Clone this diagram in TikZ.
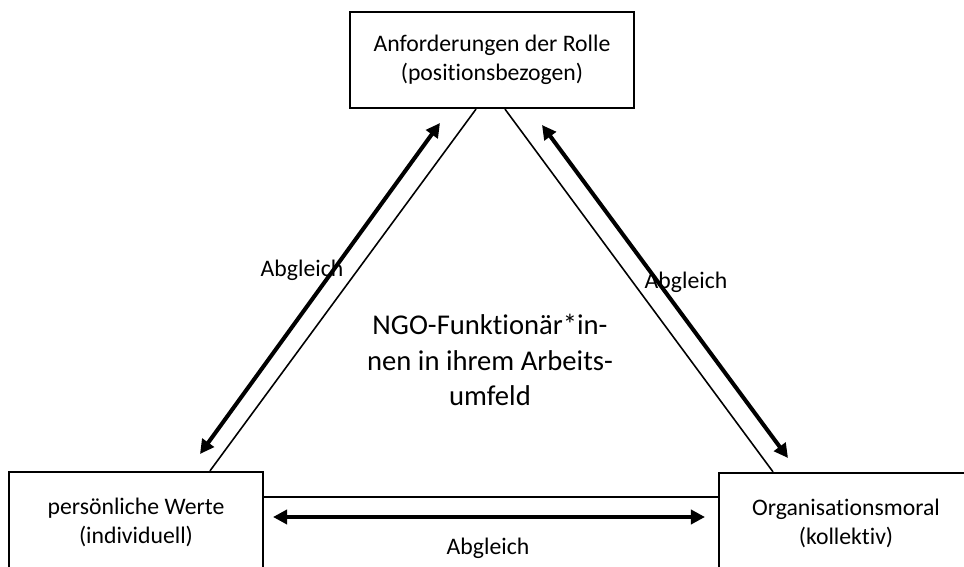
\documentclass[tikz,border=0pt]{standalone}
\usepackage{fontspec}
\setmainfont[Ligatures=NoCommon]{Carlito}
\usetikzlibrary{arrows.meta}

\tikzset{
    rolebox/.style={draw, line width=1.3pt, minimum width=5.08cm, minimum height=2cm, align=center, font=\fontsize{13.5}{16.5}\selectfont},
    link/.style={line width=0.9pt},
    match/.style={line width=2.3pt, {Triangle[length=8pt,width=8pt]}-{Triangle[length=8pt,width=8pt]}},
    matchlabel/.style={font=\fontsize{13.5}{16.5}\selectfont}
}

\begin{document}
\begin{tikzpicture}[x=0.02cm, y=-0.02cm]
        \useasboundingbox (0,0) rectangle (964,567);

        % Boxes
        \node [rolebox, minimum width=5.68cm, minimum height=1.92cm] (role) at (492,60) {Anforderungen der Rolle\\(positionsbezogen)};
        \node [rolebox] (values) at (136,522) {persönliche Werte\\(individuell)};
        \node [rolebox] (moral) at (846,523) {Organisationsmoral\\(kollektiv)};

        % Centre
        \node [align=center, font=\fontsize{16.3}{20}\selectfont] (ngo) at (490,360) {NGO-Funktionär*in-\\nen in ihrem Arbeits-\\umfeld};

        % Triangle
        \draw [link] ([xshift=-0.32cm]role.south) -- ([xshift=1.48cm]values.north);
        \draw [link] ([xshift=0.26cm]role.south) -- ([xshift=-1.46cm]moral.north);
        \draw [link] ([yshift=0.5cm]values.east) -- ([yshift=0.52cm]moral.west);

        % Arrows
        \coordinate (l1) at (200,454);
        \coordinate (l2) at (440,123);
        \coordinate (r1) at (542,125);
        \coordinate (r2) at (788,458);
        \coordinate (b1) at (273,517);
        \coordinate (b2) at (705,517);

        \draw [match] (l1) -- (l2);
        \draw [match] (r1) -- (r2);
        \draw [match] (b1) -- (b2);

        \node [matchlabel] (leftlabel) at (302,270) {Abgleich};
        \node [matchlabel] (rightlabel) at (686,282) {Abgleich};
        \node [matchlabel] (bottomlabel) at (488,548) {Abgleich};

    \end{tikzpicture}
\end{document}
